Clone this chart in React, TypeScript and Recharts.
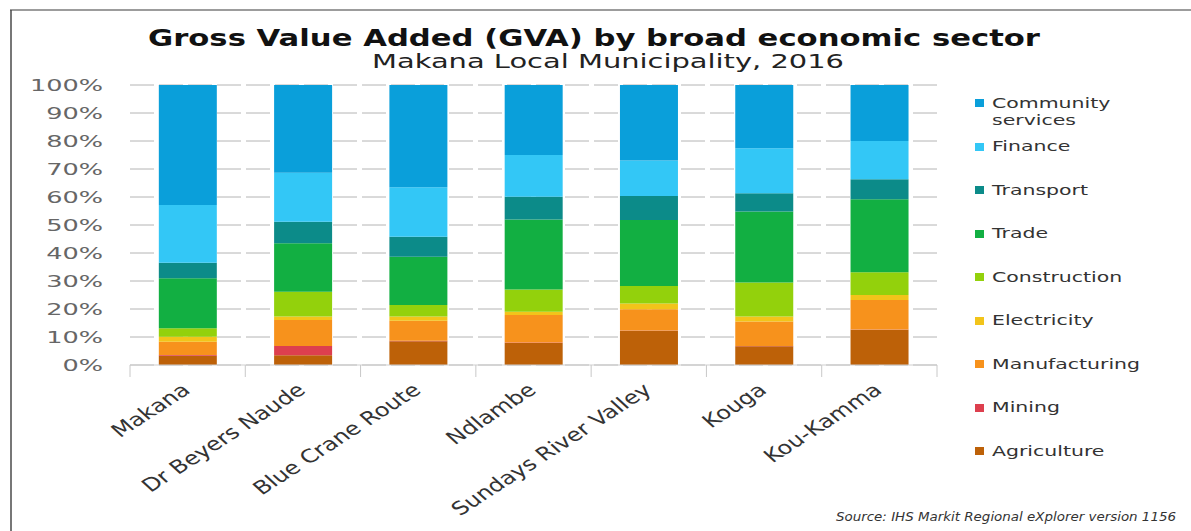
import React from "react";
import { BarChart, Bar, XAxis, YAxis, CartesianGrid, Legend } from "recharts";

const municipalities = [
  "Makana",
  "Dr Beyers Naude",
  "Blue Crane Route",
  "Ndlambe",
  "Sundays River Valley",
  "Kouga",
  "Kou-Kamma",
];

// shares of GVA in %, bottom of the stack first
const agriculture = [3.3, 3.5, 8.5, 7.9, 12.2, 6.7, 12.6];
const mining = [0.3, 3.3, 0.2, 0.1, 0.1, 0.1, 0.1];
const manufacturing = [4.7, 9.3, 7.1, 9.9, 7.6, 8.7, 10.5];
const electricity = [1.8, 1.2, 1.5, 1.1, 2.1, 1.8, 1.8];
const construction = [3.0, 8.9, 4.1, 8.0, 6.2, 12.2, 8.1];
const trade = [17.9, 17.3, 17.3, 25.0, 23.6, 25.3, 26.1];
const transport = [5.5, 7.7, 7.1, 8.1, 8.6, 6.5, 7.1];
const finance = [20.6, 17.5, 17.7, 14.9, 12.6, 16.1, 13.7];
const communityServices = [42.9, 31.3, 36.5, 25.0, 27.0, 22.6, 20.0];

const yTicks = [0, 10, 20, 30, 40, 50, 60, 70, 80, 90, 100];

const series = [
  { key: "agriculture", name: "Agriculture", values: agriculture, color: "#bd6108" },
  { key: "mining", name: "Mining", values: mining, color: "#dd3f4e" },
  { key: "manufacturing", name: "Manufacturing", values: manufacturing, color: "#f7921c" },
  { key: "electricity", name: "Electricity", values: electricity, color: "#f2c41a" },
  { key: "construction", name: "Construction", values: construction, color: "#93d10c" },
  { key: "trade", name: "Trade", values: trade, color: "#12af42" },
  { key: "transport", name: "Transport", values: transport, color: "#0c8b89" },
  { key: "finance", name: "Finance", values: finance, color: "#33c7f6" },
  { key: "community", name: "Community services", values: communityServices, color: "#0a9fda" },
];

const data = municipalities.map((name, i) => {
  const row: Record<string, any> = { name };
  series.forEach((s) => {
    row[s.key] = s.values[i];
  });
  return row;
});

const FONT = "'DejaVu Sans', Verdana, sans-serif";
const CHART_W = 1191;
const MARGIN = { top: 85, right: 34, bottom: 46, left: 0 };
const Y_AXIS_W = 130;
const LEGEND_W = 220;
// half a category band, for the tick marks between the bars
const HALF_BAND = (CHART_W - MARGIN.left - MARGIN.right - Y_AXIS_W - LEGEND_W) / municipalities.length / 2;

const YTick = ({ x, y, payload }: any) => (
  <text
    transform={`translate(${x},${y}) scale(1.55,1)`}
    textAnchor="end"
    dy="0.36em"
    fontSize={16.5}
    fill="#666"
    fontFamily={FONT}
  >
    {payload.value}%
  </text>
);

const XTick = ({ x, y, payload, index }: any) => (
  <g>
    <line x1={x - HALF_BAND} y1={y} x2={x - HALF_BAND} y2={y + 12} stroke="#c8c8c8" />
    {index === municipalities.length - 1 && (
      <line x1={x + HALF_BAND} y1={y} x2={x + HALF_BAND} y2={y + 12} stroke="#c8c8c8" />
    )}
    <text
      transform={`translate(${x + 4},${y + 27}) scale(1.3,1) rotate(-40)`}
      textAnchor="end"
      fontSize={18.5}
      fill="#333"
      fontFamily={FONT}
    >
      {payload.value}
    </text>
  </g>
);

const renderLegend = () => {
  const items = [...series].reverse();
  return (
    <div style={{ position: "relative", fontFamily: FONT }}>
      {items.map((item, i) => (
        <div
          key={item.key}
          style={{ position: "absolute", top: i * 43.5, left: 0, display: "flex", alignItems: "flex-start" }}
        >
          <span
            style={{ display: "inline-block", width: 9, height: 8, background: item.color, marginTop: 4.5, marginLeft: 5 }}
          />
          <span
            style={{
              display: "inline-block",
              marginLeft: 8,
              fontSize: 14.5,
              lineHeight: "17px",
              color: "#333",
              width: 112,
              transform: "scaleX(1.41)",
              transformOrigin: "left top",
            }}
          >
            {item.name}
          </span>
        </div>
      ))}
    </div>
  );
};

export default function App() {
  return (
    <div style={{ position: "absolute", left: 0, top: 0, width: 1191, height: 531, background: "#fff", overflow: "hidden", fontFamily: FONT }}>
      <BarChart width={CHART_W} height={531} data={data} margin={MARGIN} barCategoryGap="25%">
        <CartesianGrid vertical={false} stroke="#b4b4b4" strokeDasharray="24 5" />
        <XAxis
          dataKey="name"
          height={120}
          interval={0}
          tickLine={false}
          tickSize={0}
          tickMargin={0}
          axisLine={{ stroke: "#cfcfcf" }}
          tick={<XTick />}
        />
        <YAxis
          type="number"
          domain={[0, 100]}
          ticks={yTicks}
          width={Y_AXIS_W}
          axisLine={false}
          tickLine={false}
          tickSize={0}
          tickMargin={27}
          tick={<YTick />}
        />
        <Legend
          content={renderLegend}
          layout="vertical"
          align="right"
          verticalAlign="top"
          wrapperStyle={{ left: 970, top: 94.5, width: LEGEND_W, height: 400 }}
        />
        {series.map((s) => (
          <Bar
            key={s.key}
            dataKey={s.key}
            name={s.name}
            stackId="gva"
            fill={s.color}
            isAnimationActive={false}
          />
        ))}
      </BarChart>
      <svg
        width={1191}
        height={531}
        style={{ position: "absolute", left: 0, top: 0, pointerEvents: "none" }}
      >
        <line x1={10} y1={10} x2={1191} y2={10} stroke="#9c9c9c" strokeWidth={2} />
        <line x1={11} y1={10} x2={11} y2={531} stroke="#4a4a4a" strokeWidth={1.5} />
        <text
          x={148}
          y={46}
          fontSize={23}
          fontWeight="bold"
          fill="#111"
          fontFamily={FONT}
          textLength={892}
          lengthAdjust="spacingAndGlyphs"
        >
          Gross Value Added (GVA) by broad economic sector
        </text>
        <text
          x={372}
          y={68}
          fontSize={19.5}
          fill="#222"
          fontFamily={FONT}
          textLength={472}
          lengthAdjust="spacingAndGlyphs"
        >
          Makana Local Municipality, 2016
        </text>
        <text
          x={836}
          y={521}
          fontSize={12}
          fontStyle="italic"
          fill="#333"
          fontFamily={FONT}
          textLength={340}
          lengthAdjust="spacingAndGlyphs"
        >
          Source: IHS Markit Regional eXplorer version 1156
        </text>
      </svg>
    </div>
  );
}
